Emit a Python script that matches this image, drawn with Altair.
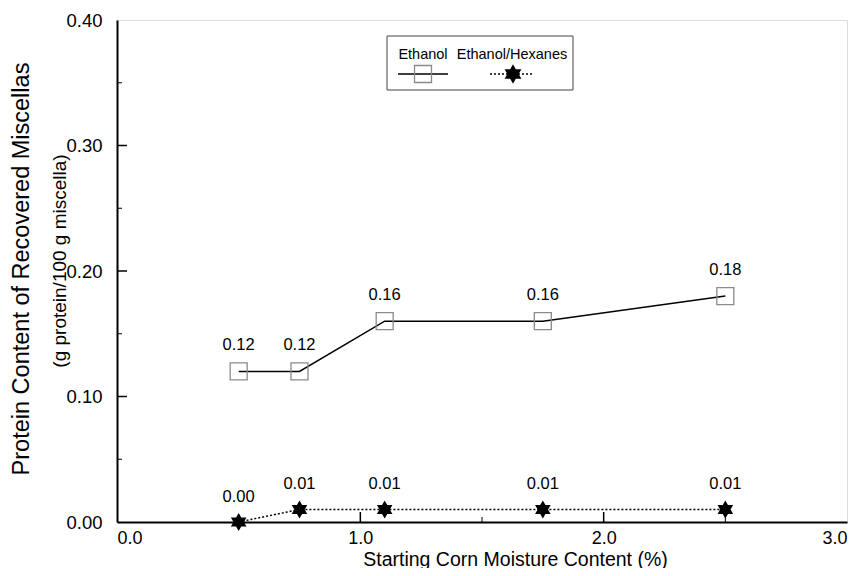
import altair as alt
import pandas as pd

moisture = [0.5, 0.75, 1.1, 1.75, 2.5]
ethanol = [0.12, 0.12, 0.16, 0.16, 0.18]
hexanes = [0.00, 0.01, 0.01, 0.01, 0.01]

x_major = [1.0, 2.0]
x_minor = [0.5, 1.5, 2.5]
y_major = [0.1, 0.2, 0.3]
y_minor = [0.05, 0.15, 0.25, 0.35]
x_labels = [0.0, 1.0, 2.0, 3.0]
y_labels = [0.0, 0.1, 0.2, 0.3, 0.4]

W, H = 730, 502
FONT = "Liberation Sans"
STAR = ("M0,-1L0.289,-0.5L0.866,-0.5L0.577,0L0.866,0.5L0.289,0.5L0,1"
        "L-0.289,0.5L-0.866,0.5L-0.577,0L-0.866,-0.5L-0.289,-0.5Z")

df_e = pd.DataFrame({"x": moisture, "y": ethanol})
df_h = pd.DataFrame({"x": moisture, "y": hexanes})

xs = alt.Scale(domain=[0, 3], nice=False, zero=False)
ys = alt.Scale(domain=[0, 0.4], nice=False, zero=False)

X = alt.X("x:Q", scale=xs, axis=alt.Axis(values=x_labels, format=".1f", ticks=False,
          domain=True, domainWidth=2, domainColor="black", grid=False,
          labelFontSize=18, labelFont=FONT, labelColor="black", labelPadding=7,
          title="Starting Corn Moisture Content (%)", titleFontSize=19.5,
          titleFont=FONT, titleFontWeight="normal", titleColor="black",
          titleBaseline="alphabetic", titleY=43, titleX=398))
Y = alt.Y("y:Q", scale=ys, axis=alt.Axis(values=y_labels, format=".2f", ticks=False,
          domain=True, domainWidth=2, domainColor="black", grid=False,
          labelFontSize=18.5, labelFont=FONT, labelColor="black", labelPadding=15,
          title=None))

line_e = alt.Chart(df_e).mark_line(color="black", strokeWidth=1.5).encode(x=X, y=Y)
pts_e = alt.Chart(df_e).mark_point(shape="square", size=289, filled=False,
                                   color="#8a8a8a", strokeWidth=1.3, opacity=1).encode(x="x:Q", y="y:Q")
lab_e = alt.Chart(df_e).mark_text(dy=-26, fontSize=16.5, font=FONT, color="black").encode(
    x="x:Q", y="y:Q", text=alt.Text("y:Q", format=".2f"))

line_h = alt.Chart(df_h).mark_line(color="black", strokeWidth=1.5, strokeDash=[2, 2]).encode(x="x:Q", y="y:Q")
pts_h = alt.Chart(df_h).mark_point(shape=STAR, size=324, filled=True, color="black",
                                   opacity=1).encode(x="x:Q", y="y:Q")
lab_h = alt.Chart(df_h).mark_text(dy=-25, fontSize=16.5, font=FONT, color="black").encode(
    x="x:Q", y="y:Q", text=alt.Text("y:Q", format=".2f"))

# inward ticks
tk = lambda vals: pd.DataFrame({"v": vals})
xt_major = alt.Chart(tk(x_major)).mark_rule(color="black", strokeWidth=1.5).encode(
    x="v:Q", y=alt.value(H), y2=alt.value(H - 10))
xt_minor = alt.Chart(tk(x_minor)).mark_rule(color="black", strokeWidth=1).encode(
    x="v:Q", y=alt.value(H), y2=alt.value(H - 5))
yt_major = alt.Chart(tk(y_major)).mark_rule(color="black", strokeWidth=1.5).encode(
    y="v:Q", x=alt.value(0), x2=alt.value(10))
yt_minor = alt.Chart(tk(y_minor)).mark_rule(color="black", strokeWidth=1).encode(
    y="v:Q", x=alt.value(0), x2=alt.value(5))

# y titles
one = pd.DataFrame({"t": ["a"]})
ytitle = alt.Chart(one).mark_text(angle=270, fontSize=23.5, font=FONT, color="black",
                                  baseline="middle").encode(
    x=alt.value(-95), y=alt.value(249), text=alt.value("Protein Content of Recovered Miscellas"))
ysub = alt.Chart(one).mark_text(angle=270, fontSize=19, font=FONT, color="black",
                                baseline="middle").encode(
    x=alt.value(-57), y=alt.value(241), text=alt.value("(g protein/100 g miscella)"))

# legend
leg_box = alt.Chart(one).mark_rect(fill="white", stroke="#444", strokeWidth=1).encode(
    x=alt.value(270), x2=alt.value(456), y=alt.value(16), y2=alt.value(70))
leg_t1 = alt.Chart(one).mark_text(fontSize=14.5, font=FONT, color="black").encode(
    x=alt.value(306), y=alt.value(35), text=alt.value("Ethanol"))
leg_t2 = alt.Chart(one).mark_text(fontSize=14.5, font=FONT, color="black").encode(
    x=alt.value(395), y=alt.value(35), text=alt.value("Ethanol/Hexanes"))
leg_l1 = alt.Chart(one).mark_rule(color="black", strokeWidth=1.5).encode(
    x=alt.value(281), x2=alt.value(331), y=alt.value(54))
leg_s1 = alt.Chart(one).mark_point(shape="square", size=289, filled=False, color="#8a8a8a",
                                   strokeWidth=1.3, opacity=1).encode(x=alt.value(306), y=alt.value(54))
leg_l2 = alt.Chart(one).mark_rule(color="black", strokeWidth=1.5, strokeDash=[2, 2]).encode(
    x=alt.value(373), x2=alt.value(416), y=alt.value(54))
leg_s2 = alt.Chart(one).mark_point(shape=STAR, size=380, filled=True, color="black",
                                   opacity=1).encode(x=alt.value(396), y=alt.value(54))

chart = alt.layer(
    line_e, line_h, pts_e, pts_h, lab_e, lab_h,
    xt_major, xt_minor, yt_major, yt_minor,
    ytitle, ysub,
    leg_box, leg_t1, leg_t2, leg_l1, leg_s1, leg_l2, leg_s2,
).properties(
    width=W, height=H,
    autosize=alt.AutoSizeParams(type="none"),
    padding={"left": 109, "top": 12, "right": 5, "bottom": 46},
).configure_view(stroke="black", strokeWidth=1.5).configure(background="white")

chart.save("out.html", embed_options={"renderer": "svg", "actions": False})
